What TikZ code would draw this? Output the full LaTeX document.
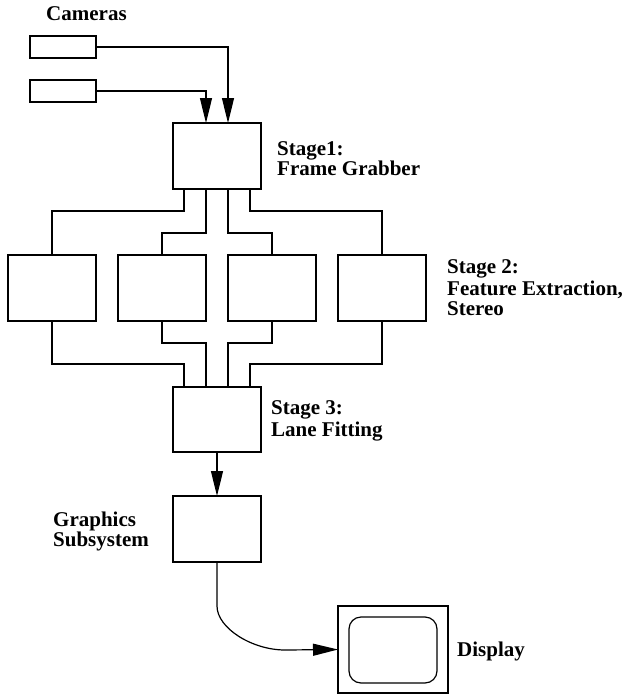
\documentclass[tikz,border=0pt]{standalone}
\usepackage{fontspec}
\setmainfont{Liberation Serif}
\usetikzlibrary{arrows.meta}
\begin{document}
\begin{tikzpicture}[x=1pt,y=-1pt,
  box/.style={draw,line width=1.2pt,inner sep=0pt,outer sep=0pt,minimum width=88pt,minimum height=66pt},
  cam/.style={draw,line width=1.2pt,inner sep=0pt,outer sep=0pt,minimum width=66pt,minimum height=22pt},
  wire/.style={line width=1.2pt},
  arr/.style={line width=1.2pt,-{Triangle[length=25pt,width=12pt]}},
  lbl/.style={anchor=base west,inner sep=0pt,font=\fontsize{21}{21}\selectfont\bfseries}]
\useasboundingbox (0,0) rectangle (631,694);
% cameras
\node[cam] (cam1) at (63,47) {};
\node[cam] (cam2) at (63,91) {};
\node[lbl] (tcam) at (46,20) {Cameras};
% stage 1
\node[box] (s1) at (217,156) {};
\node[lbl] (t1a) at (277,155.7) {Stage1:};
\node[lbl] (t1b) at (277,175) {Frame Grabber};
% stage 2
\node[box] (b1) at (52,288) {};
\node[box] (b2) at (162,288) {};
\node[box] (b3) at (272,288) {};
\node[box] (b4) at (382,288) {};
\node[lbl] (t2a) at (447,273) {Stage 2:};
\node[lbl] (t2b) at (447,295) {Feature Extraction,};
\node[lbl] (t2c) at (447,315) {Stereo};
% stage 3
\node[box,minimum height=65pt] (s3) at (217,419.5) {};
\node[lbl] (t3a) at (271,414) {Stage 3:};
\node[lbl] (t3b) at (271,436) {Lane Fitting};
% graphics
\node[box] (gr) at (217,529) {};
\node[lbl] (tga) at (53,526.7) {Graphics};
\node[lbl] (tgb) at (53,546.7) {Subsystem};
% display
\node[box,minimum width=110pt,minimum height=87pt] (disp) at (393,649.5) {};
\node[box,rounded corners=12pt] (scr) at (393,650) {};
\node[lbl] (tdisp) at (457,656.7) {Display};
% connectors
\draw[arr] (cam1.east) -| ([xshift=11pt]s1.north);
\draw[arr] (cam2.east) -| ([xshift=-11pt]s1.north);
\draw[wire] ([xshift=-33pt]s1.south) -- ++(0,22) -| (b1.north);
\draw[wire] ([xshift=-11pt]s1.south) -- ++(0,44) -| (b2.north);
\draw[wire] ([xshift=11pt]s1.south) -- ++(0,44) -| (b3.north);
\draw[wire] ([xshift=33pt]s1.south) -- ++(0,22) -| (b4.north);
\draw[wire] (b1.south) -- ++(0,43) -| ([xshift=-33pt]s3.north);
\draw[wire] (b2.south) -- ++(0,22) -| ([xshift=-11pt]s3.north);
\draw[wire] (b3.south) -- ++(0,22) -| ([xshift=11pt]s3.north);
\draw[wire] (b4.south) -- ++(0,43) -| ([xshift=33pt]s3.north);
\draw[arr] (s3.south) -- (gr.north);
\draw[arr] (gr.south) -- ++(0,44) .. controls +(0,22) and (252,650) .. (285,650) -- (disp.west);
\end{tikzpicture}
\end{document}
